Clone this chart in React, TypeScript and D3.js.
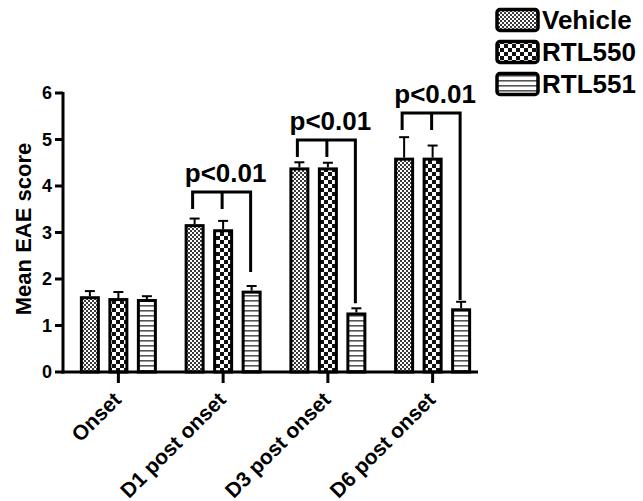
import React from 'react';
import * as d3 from 'd3';

const categories = ['Onset', 'D1 post onset', 'D3 post onset', 'D6 post onset'];
const seriesNames = ['Vehicle', 'RTL550', 'RTL551'];
const vehicle = [1.63, 3.18, 4.40, 4.61];
const vehicleErr = [1.74, 3.30, 4.51, 5.05];
const rtl550 = [1.59, 3.07, 4.40, 4.61];
const rtl550Err = [1.72, 3.25, 4.50, 4.87];
const rtl551 = [1.57, 1.75, 1.28, 1.37];
const rtl551Err = [1.63, 1.85, 1.37, 1.51];
// significance brackets: level of the bar, and where the long leg stops
const bracketLevel = [null, 3.87, 4.99, 5.57];
const bracketLongEnd = [null, 2.15, 1.48, 1.55];
const bracketLabel = 'p<0.01';
const yTicks = [0, 1, 2, 3, 4, 5, 6];

const W = 643;
const H = 501;
const font = '"Liberation Sans", Arial, sans-serif';
const fills = ['url(#pVehicle)', 'url(#pRtl550)', 'url(#pRtl551)'];

export default function App() {
  const y = d3.scaleLinear().domain([0, 6]).range([372, 93]);
  const x = d3.scaleBand().domain(categories).range([66, 485]);
  const inner = d3.scalePoint().domain(seriesNames).range([-28.5, 28.5]);
  const values = [vehicle, rtl550, rtl551];
  const errs = [vehicleErr, rtl550Err, rtl551Err];
  const barW = 20;
  const legendY = d3.scalePoint().domain(seriesNames).range([20, 84]);

  const cx = (c: string) => (x(c) as number) + x.bandwidth() / 2;

  return (
    <svg width={W} height={H} style={{ position: 'absolute', left: 0, top: 0, background: '#fff' }}>
      <defs>
        <pattern id="pVehicle" width="4" height="4" patternUnits="userSpaceOnUse">
          <rect width="4" height="4" fill="#fff" />
          <rect width="2" height="2" fill="#3a3a3a" />
          <rect x="2" y="2" width="2" height="2" fill="#3a3a3a" />
        </pattern>
        <pattern id="pRtl550" width="8" height="8" patternUnits="userSpaceOnUse">
          <rect width="8" height="8" fill="#111" />
          <rect width="4" height="4" fill="#fff" />
          <rect x="4" y="4" width="4" height="4" fill="#fff" />
        </pattern>
        <pattern id="pRtl551" width="5" height="5" patternUnits="userSpaceOnUse">
          <rect width="5" height="5" fill="#fff" />
          <rect y="0" width="5" height="1.6" fill="#555" />
        </pattern>
      </defs>

      {/* bars */}
      {categories.map((c, i) => (
        <g key={c}>
          {seriesNames.map((s, j) => {
            const bx = cx(c) + (inner(s) as number);
            const top = y(values[j][i]);
            const et = y(errs[j][i]);
            return (
              <g key={s}>
                <line x1={bx} x2={bx} y1={top} y2={et} stroke="#000" strokeWidth={2} />
                <line x1={bx - 5} x2={bx + 5} y1={et} y2={et} stroke="#000" strokeWidth={2} />
                <rect
                  x={bx - barW / 2 + 1.5}
                  y={top + 1.5}
                  width={barW - 3}
                  height={y(0) - top - 1.5}
                  fill={fills[j]}
                  stroke="#000"
                  strokeWidth={3}
                />
              </g>
            );
          })}
        </g>
      ))}

      {/* significance brackets */}
      {categories.map((c, i) => {
        const lvl = bracketLevel[i];
        const longEnd = bracketLongEnd[i];
        if (lvl == null || longEnd == null) return null;
        const by = y(lvl);
        const x0 = cx(c) + (inner('Vehicle') as number) - 2;
        const x1 = cx(c) + (inner('RTL550') as number) - 1;
        const x2 = cx(c) + (inner('RTL551') as number) - 1;
        return (
          <g key={'b' + c} fill="none" stroke="#000" strokeWidth={3}>
            <path d={`M${x0},${by + 17}V${by}H${x2}V${y(longEnd)}`} />
            <line x1={x1} x2={x1} y1={by} y2={by + 17} />
            <text
              x={(x0 + x2) / 2 + 4}
              y={by - 10}
              textAnchor="middle"
              fontFamily={font}
              fontWeight="bold"
              fontSize={26}
              fill="#000"
              stroke="none"
            >
              {bracketLabel}
            </text>
          </g>
        );
      })}

      {/* y axis */}
      <line x1={63} x2={63} y1={y(6) - 1} y2={y(0) + 1.5} stroke="#000" strokeWidth={3} />
      {yTicks.map(t => (
        <g key={t}>
          <line x1={55} x2={63} y1={y(t)} y2={y(t)} stroke="#000" strokeWidth={3} />
          <text
            x={52}
            y={y(t)}
            dy="0.36em"
            textAnchor="end"
            fontFamily={font}
            fontWeight="bold"
            fontSize={18}
          >
            {t}
          </text>
        </g>
      ))}
      <text
        transform={`translate(31,229) rotate(-90)`}
        textAnchor="middle"
        fontFamily={font}
        fontWeight="bold"
        fontSize={22}
      >
        Mean EAE score
      </text>

      {/* x axis */}
      <line x1={61.5} x2={478} y1={y(0)} y2={y(0)} stroke="#000" strokeWidth={3} />
      {categories.map(c => (
        <g key={'t' + c}>
          <line x1={cx(c)} x2={cx(c)} y1={y(0)} y2={y(0) + 11} stroke="#000" strokeWidth={3} />
          <text
            transform={`translate(${cx(c) + 4},401) rotate(-45)`}
            textAnchor="end"
            fontFamily={font}
            fontWeight="bold"
            fontSize={21}
          >
            {c}
          </text>
        </g>
      ))}

      {/* legend */}
      {seriesNames.map((s, j) => {
        const ly = legendY(s) as number;
        return (
          <g key={'l' + s}>
            <rect x={497} y={ly - 10.5} width={41} height={21} rx={3} fill={fills[j]} stroke="#000" strokeWidth={3.5} />
            <text x={542} y={ly + 9} fontFamily={font} fontWeight="bold" fontSize={26}>
              {s}
            </text>
          </g>
        );
      })}
    </svg>
  );
}
